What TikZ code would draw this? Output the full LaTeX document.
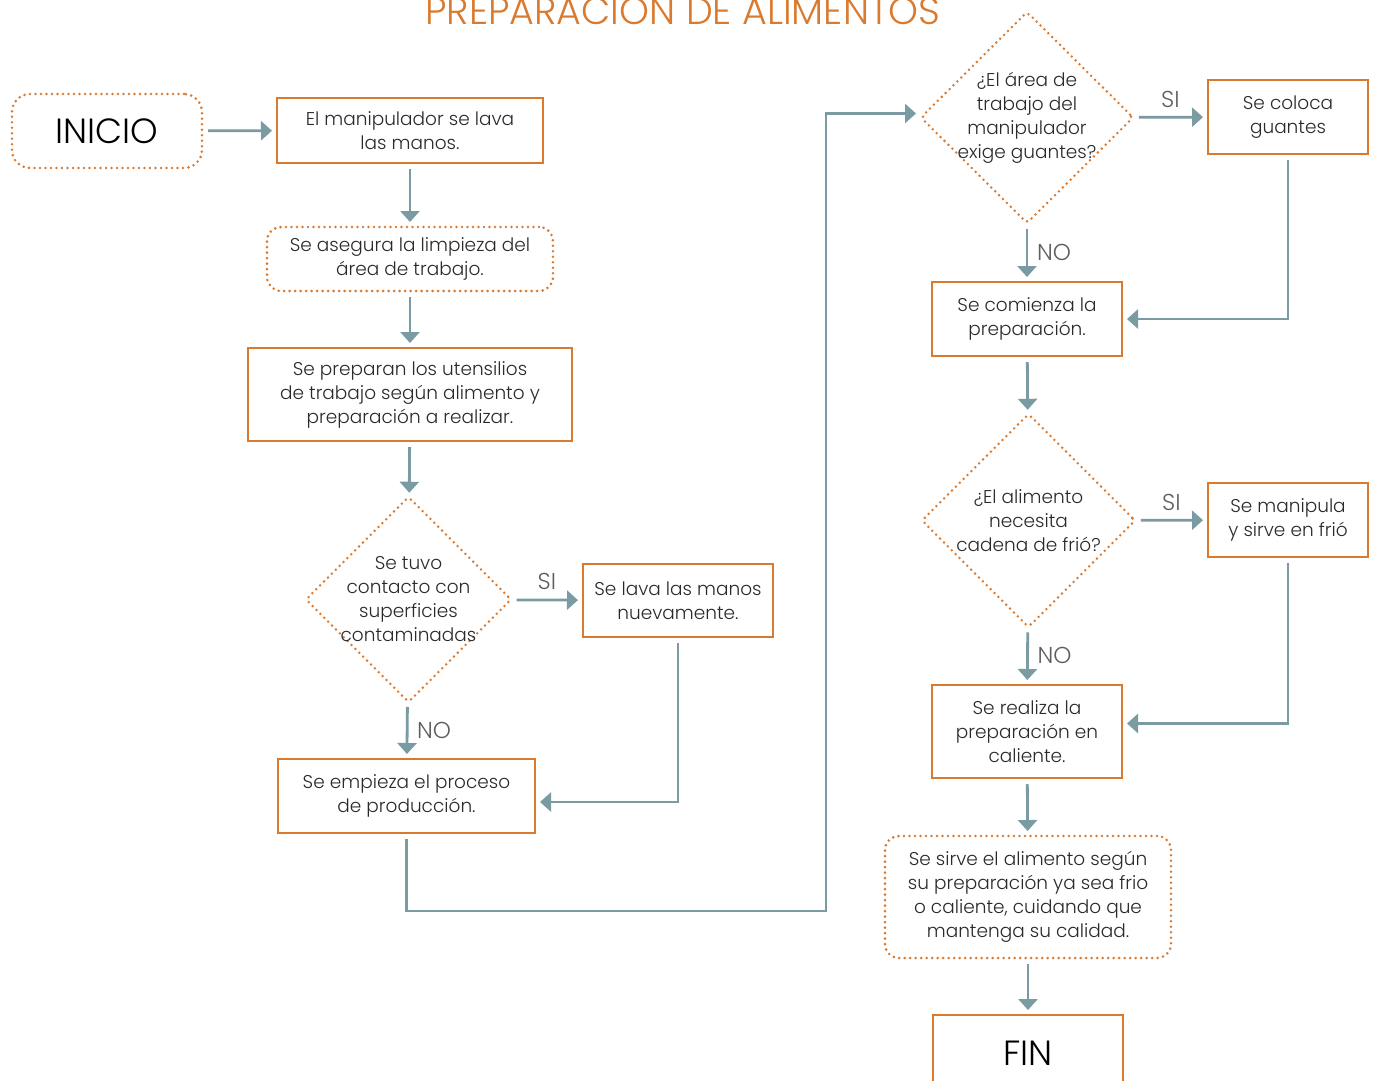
\documentclass[tikz,border=0pt]{standalone}
\usepackage{fontspec}
\setmainfont{Poppins}[UprightFont={* Light}]
\usetikzlibrary{shapes.geometric,arrows.meta}
\definecolor{accent}{HTML}{D97A2E}
\definecolor{flow}{HTML}{7B9BA3}
\definecolor{ink}{HTML}{2A2A2A}
\definecolor{tagcol}{HTML}{5E5E5E}

\begin{document}
\begin{tikzpicture}[x=1pt,y=-1pt,
  every node/.style={inner sep=0pt, outer sep=0pt, font=\fontsize{18.5}{24}\selectfont, text=ink, align=center},
  solidbox/.style={draw=accent, line width=2.8pt, rectangle},
  dotbox/.style={draw=accent, line width=2.9pt, line cap=round, dash pattern=on 0pt off 5.5pt, rounded corners=14pt, rectangle},
  decision/.style={draw=accent, line width=2.8pt, line cap=round, dash pattern=on 0pt off 5.5pt, diamond, rounded corners=4pt},
  conn/.style={draw=flow, line width=2.8pt, -{Triangle[length=11pt,width=19pt]}, shorten <=6pt, shorten >=5pt},
  tag/.style={text=tagcol, font=\fontsize{23}{26}\selectfont},
  bigtext/.style={font=\fontsize{35}{40}\selectfont, text=black},
]
\useasboundingbox (0,0) rectangle (1373,1080);
\clip (0,0) rectangle (1373,1080);

% title
\node[font=\fontsize{38}{40}\selectfont, text=accent, anchor=base] (title) at (683,24) {PREPARACIÓN DE ALIMENTOS};

% left column
\node[dotbox, rounded corners=18pt, minimum width=190pt, minimum height=74pt, bigtext] (inicio) at (107,131) {INICIO};
\node[solidbox, minimum width=266pt, minimum height=65pt] (b1) at (410,130.5) {El manipulador se lava\\las manos.};
\node[dotbox, minimum width=286pt, minimum height=64pt] (b2) at (410,259) {Se asegura la limpieza del\\área de trabajo.};
\node[solidbox, minimum width=324pt, minimum height=93pt] (b3) at (410,394.5) {Se preparan los utensilios\\de trabajo según alimento y\\preparación a realizar.};
\node[decision, minimum width=205pt, minimum height=205pt] (d1) at (408.5,599.5) {};
\node (d1t) at (d1.center) {Se tuvo\\contacto con\\superficies\\contaminadas};
\node[solidbox, minimum width=190pt, minimum height=73pt] (b4) at (678,600.5) {Se lava las manos\\nuevamente.};
\node[solidbox, minimum width=257pt, minimum height=74pt] (b5) at (406.5,796) {Se empieza el proceso\\de producción.};

% right column
\node[decision, minimum width=212pt, minimum height=211pt] (d2) at (1027,117.5) {};
\node (d2t) at (d2.center) {¿El área de\\trabajo del\\manipulador\\exige guantes?};
\node[solidbox, minimum width=160pt, minimum height=74pt] (b6) at (1288,117) {Se coloca\\guantes};
\node[solidbox, minimum width=190pt, minimum height=74pt] (b7) at (1027,319) {Se comienza la\\preparación.};
\node[decision, minimum width=213pt, minimum height=213pt] (d3) at (1028.5,520.5) {};
\node (d3t) at (d3.center) {¿El alimento\\necesita\\cadena de frió?};
\node[solidbox, minimum width=160pt, minimum height=74pt] (b8) at (1288,520) {Se manipula\\y sirve en frió};
\node[solidbox, minimum width=190pt, minimum height=93pt] (b9) at (1027,731.5) {Se realiza la\\preparación en\\caliente.};
\node[dotbox, minimum width=286pt, minimum height=122pt] (b10) at (1028,897) {Se sirve el alimento según\\su preparación ya sea frio\\o caliente, cuidando que\\mantenga su calidad.};
\node[solidbox, minimum width=190pt, minimum height=76pt, bigtext] (fin) at (1028,1053) {FIN};

% connectors
\draw[conn] (inicio) -- (b1);
\draw[conn] (b1) -- (b2);
\draw[conn] (b2) -- (b3);
\draw[conn] (b3) -- (d1);
\draw[conn] (d1) -- node[tag, above=10pt] {SI} (b4);
\draw[conn] (d1) -- node[tag, right=10pt] {NO} (b5);
\draw[conn] (b4.south) |- ([yshift=-6pt]b5.east);
\coordinate (turn) at (826,911);
\draw[conn] (b5.south) |- (turn) |- ([yshift=4pt]d2.west);
\draw[conn] (d2) -- node[tag, above=10pt] {SI} (b6);
\draw[conn] (d2) -- node[tag, right=10pt] {NO} (b7);
\draw[conn] (b6.south) |- (b7.east);
\draw[conn] (b7) -- (d3);
\draw[conn] (d3) -- node[tag, above=10pt] {SI} (b8);
\draw[conn] (d3) -- node[tag, right=10pt] {NO} (b9);
\draw[conn] (b8.south) |- ([yshift=8pt]b9.east);
\draw[conn] (b9) -- (b10);
\draw[conn] (b10) -- (fin);
\end{tikzpicture}
\end{document}
